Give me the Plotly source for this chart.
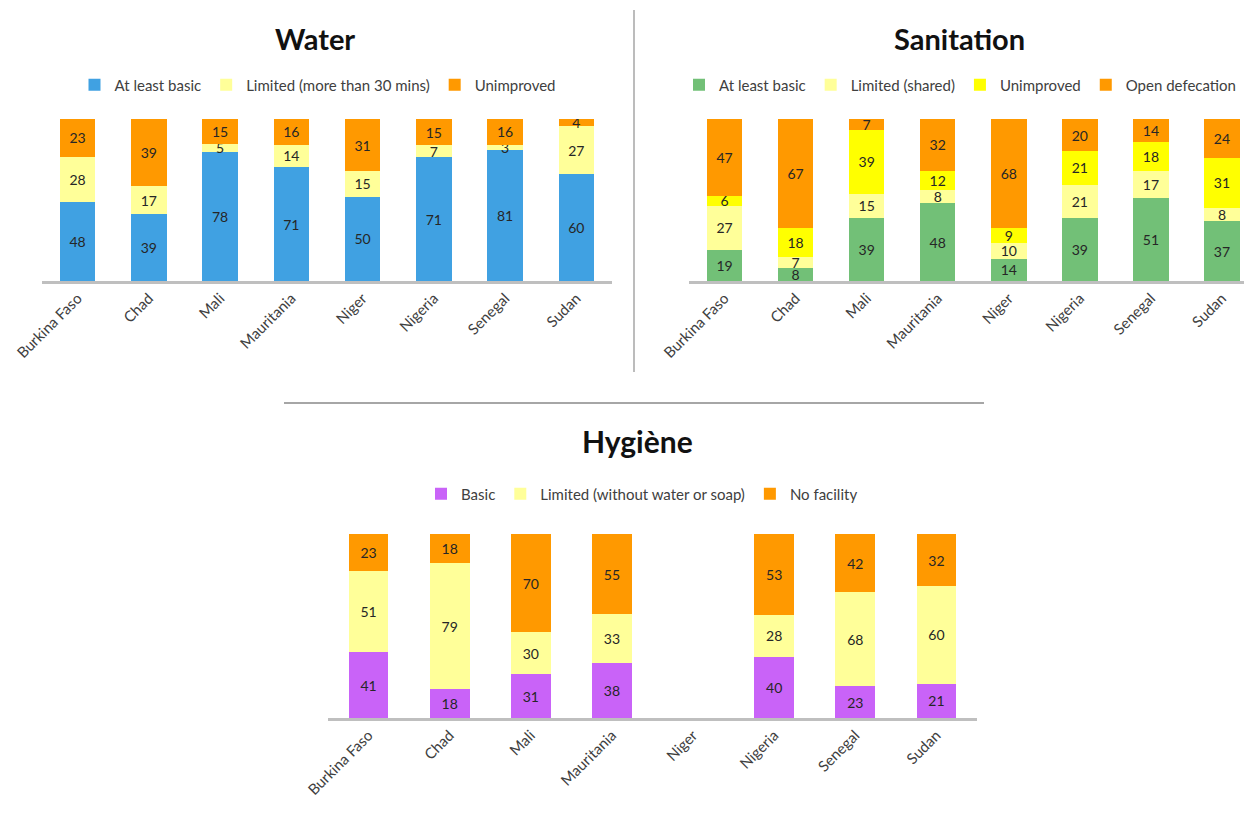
import plotly.graph_objects as go

countries = ["Burkina Faso", "Chad", "Mali", "Mauritania", "Niger", "Nigeria", "Senegal", "Sudan"]

# Water
water_basic = [48, 39, 78, 71, 50, 71, 81, 60]
water_limited = [28, 17, 5, 14, 15, 7, 3, 27]
water_unimproved = [23, 39, 15, 16, 31, 15, 16, 4]

# Sanitation
san_basic = [19, 8, 39, 48, 14, 39, 51, 37]
san_limited = [27, 7, 15, 8, 10, 21, 17, 8]
san_unimproved = [6, 18, 39, 12, 9, 21, 18, 31]
san_open = [47, 67, 7, 32, 68, 20, 14, 24]

# Hygiene
hyg_basic = [41, 18, 31, 38, None, 40, 23, 21]
hyg_limited = [51, 79, 30, 33, None, 28, 68, 60]
hyg_none = [23, 18, 70, 55, None, 53, 42, 32]

BLUE = "#40A1E2"
LYEL = "#FFFF99"
YEL = "#FFFF00"
ORANGE = "#FF9900"
GREEN = "#72C077"
PURPLE = "#C963F8"
FONT = "Lato"
TXT = "#262626"

W, H = 1244, 818

fig = go.Figure()

def add(vals, name, color, xa, ya, leg, width):
    fig.add_trace(go.Bar(
        x=countries, y=vals, name=name, marker_color=color, marker_line_width=0,
        text=[("" if v is None else str(v)) for v in vals],
        textposition="inside", insidetextanchor="middle", textangle=0,
        textfont=dict(family=FONT, size=14, color=TXT),
        xaxis=xa, yaxis=ya, legend=leg, width=width, hoverinfo="skip",
    ))

add(water_basic, "At least basic", BLUE, "x", "y", "legend", 0.5)
add(water_limited, "Limited (more than 30 mins)", LYEL, "x", "y", "legend", 0.5)
add(water_unimproved, "Unimproved", ORANGE, "x", "y", "legend", 0.5)

add(san_basic, "At least basic", GREEN, "x2", "y2", "legend2", 0.5)
add(san_limited, "Limited (shared)", LYEL, "x2", "y2", "legend2", 0.5)
add(san_unimproved, "Unimproved", YEL, "x2", "y2", "legend2", 0.5)
add(san_open, "Open defecation", ORANGE, "x2", "y2", "legend2", 0.5)

add(hyg_basic, "Basic", PURPLE, "x3", "y3", "legend3", 0.49)
add(hyg_limited, "Limited (without water or soap)", LYEL, "x3", "y3", "legend3", 0.49)
add(hyg_none, "No facility", ORANGE, "x3", "y3", "legend3", 0.49)

def px_x(p):
    return p / W

def px_y(p):
    return 1 - p / H

xcommon = dict(type="category", showline=True, linecolor="#BFBFBF", linewidth=2.5,
               showgrid=False, zeroline=False, ticks="", tickangle=-45, automargin=False,
               tickfont=dict(family=FONT, size=15, color="#404040"), fixedrange=True)
ycommon = dict(range=[0, 100], visible=False, showgrid=False, zeroline=False,
               automargin=False, fixedrange=True)

legcommon = dict(orientation="h", xanchor="center", yanchor="middle",
                 font=dict(family=FONT, size=15, color="#404040"),
                 bgcolor="rgba(0,0,0,0)", itemwidth=30, traceorder="normal")

def title(txt, x, y, size):
    return dict(text="<b>" + txt + "</b>", x=px_x(x), y=px_y(y), xref="paper", yref="paper",
                xanchor="center", yanchor="middle", showarrow=False,
                font=dict(family=FONT, size=size, color="#111111"))

fig.update_layout(
    width=W, height=H,
    margin=dict(l=0, r=0, t=0, b=0, autoexpand=False),
    paper_bgcolor="white", plot_bgcolor="white",
    barmode="stack", barnorm="percent",
    uniformtext=dict(minsize=14, mode="show"),
    xaxis=dict(domain=[px_x(42), px_x(612)], range=[-0.5, 7.5], anchor="y", **xcommon),
    yaxis=dict(domain=[px_y(281), px_y(119)], anchor="x", **ycommon),
    xaxis2=dict(domain=[px_x(689), 1.0], range=[-0.5, 7.31], anchor="y2", **xcommon),
    yaxis2=dict(domain=[px_y(281), px_y(119)], anchor="x2", **ycommon),
    xaxis3=dict(domain=[px_x(328), px_x(977)], range=[-0.5, 7.5], anchor="y3", **xcommon),
    yaxis3=dict(domain=[px_y(718), px_y(534)], anchor="x3", **ycommon),
    legend=dict(x=px_x(318), y=px_y(85), **legcommon),
    legend2=dict(x=px_x(960), y=px_y(85), **legcommon),
    legend3=dict(x=px_x(642), y=px_y(494), **legcommon),
    annotations=[
        title("Water", 315, 38, 29),
        title("Sanitation", 959, 38, 29),
        title("Hygiène", 637, 441, 30),
    ],
    shapes=[
        dict(type="line", xref="paper", yref="paper", x0=px_x(634), x1=px_x(634),
             y0=px_y(10), y1=px_y(372), line=dict(color="#A6A6A6", width=1.5)),
        dict(type="line", xref="paper", yref="paper", x0=px_x(284), x1=px_x(984),
             y0=px_y(403), y1=px_y(403), line=dict(color="#A6A6A6", width=2)),
    ],
)

fig.write_html("out.html", config={"displayModeBar": False})
